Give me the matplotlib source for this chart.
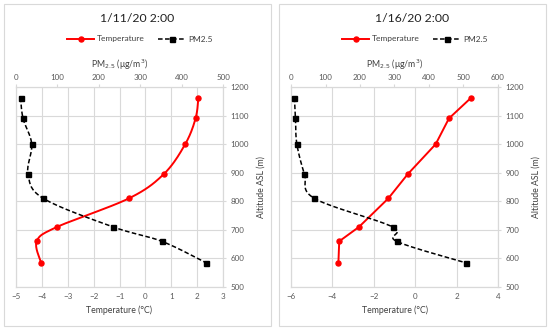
import matplotlib
matplotlib.use('Agg')
import matplotlib.pyplot as plt
from matplotlib.patches import Rectangle
from matplotlib.lines import Line2D
import numpy as np

plt.rcParams['font.family'] = ['Lato', 'DejaVu Sans']

# altitude (m ASL) of each sounding level
altitude = [1163, 1090, 1000, 895, 810, 710, 660, 585]

# 1/11/20 2:00
temp_a = [2.05, 1.94, 1.54, 0.71, -0.64, -3.42, -4.2, -4.03]
pm_a = [11, 17, 38, 29, 66, 235, 352, 459]

# 1/16/20 2:00
temp_b = [2.71, 1.63, 0.99, -0.36, -1.3, -2.72, -3.67, -3.71]
pm_b = [10, 13, 17, 39, 68, 295, 306, 506]

titles = ['1/11/20 2:00', '1/16/20 2:00']
temp_lims = [(-5, 3), (-6, 4)]
temp_steps = [1, 2]
pm_lims = [(0, 500), (0, 600)]
alt_lim = (500, 1200)
smooth_temp = [True, False]   # second chart has a straight-segment temperature line

grid_col = '#d9d9d9'
tick_col = '#595959'
text_col = '#404040'


def smooth(x, y, xlim, ylim, n=20):
    # Excel-style smoothed line (Catmull-Rom / Bezier) in normalised space
    xs = (np.asarray(x, float) - xlim[0]) / (xlim[1] - xlim[0])
    ys = (np.asarray(y, float) - ylim[0]) / (ylim[1] - ylim[0])
    p = np.column_stack([xs, ys])
    out = [p[0]]
    for i in range(len(p) - 1):
        p0 = p[i - 1] if i > 0 else p[i]
        p1 = p[i]
        p2 = p[i + 1]
        p3 = p[i + 2] if i + 2 < len(p) else p[i + 1]
        c1 = p1 + (p2 - p0) / 6
        c2 = p2 - (p3 - p1) / 6
        t = np.linspace(0, 1, n)[1:, None]
        seg = ((1 - t) ** 3) * p1 + 3 * ((1 - t) ** 2) * t * c1 + 3 * (1 - t) * t ** 2 * c2 + t ** 3 * p2
        out.extend(seg)
    out = np.array(out)
    return (out[:, 0] * (xlim[1] - xlim[0]) + xlim[0],
            out[:, 1] * (ylim[1] - ylim[0]) + ylim[0])


fig = plt.figure(figsize=(5.5, 3.3), dpi=100)
W, H = 550.0, 330.0

panels = [(temp_a, pm_a), (temp_b, pm_b)]
for k, (temp, pm) in enumerate(panels):
    off = 275 * k
    # panel border
    fig.patches.append(Rectangle(((4 + off) / W, 4 / H), 267 / W, 322 / H,
                                 transform=fig.transFigure, fill=False,
                                 edgecolor=grid_col, lw=0.8))
    fig.text((137 + off) / W, 1 - 18 / H, titles[k], ha='center', va='center',
             fontsize=8.8, color='#222222')

    ax = fig.add_axes([(16 + off) / W, 1 - 287 / H, 207 / W, 200 / H])
    ax2 = ax.twiny()

    tl = temp_lims[k]
    pl = pm_lims[k]
    if smooth_temp[k]:
        tx, ty = smooth(temp, altitude, tl, alt_lim)
    else:
        tx, ty = temp, altitude
    ax.plot(tx, ty, color='#ff0000', lw=1.4, zorder=3)
    ax.plot(temp, altitude, 'o', color='#ff0000', ms=3.6, zorder=4)
    px, py = smooth(pm, altitude, pl, alt_lim)
    ax2.plot(px, py, '--', color='black', lw=1.1, dashes=(3, 1.6), zorder=3)
    ax2.plot(pm, altitude, 's', color='black', ms=3.6, zorder=4)

    ax.set_xlim(tl)
    ax.set_ylim(alt_lim)
    ax2.set_xlim(pl)
    ax.set_xticks(np.arange(tl[0], tl[1] + 0.1, temp_steps[k]))
    ax.set_yticks(np.arange(500, 1201, 100))
    ax2.set_xticks(np.arange(pl[0], pl[1] + 1, 100))

    ax.yaxis.tick_right()
    ax.yaxis.set_label_position('right')
    ax.grid(True, color=grid_col, lw=0.8)
    ax.set_axisbelow(True)
    for a in (ax, ax2):
        for s in a.spines.values():
            s.set_color(grid_col)
            s.set_linewidth(0.8)
        a.tick_params(labelsize=5.8, colors=tick_col, length=0, pad=4)
    ax.tick_params(axis='y', length=2.5, color=grid_col, pad=3)
    ax2.tick_params(axis='x', length=2.5, color=grid_col, pad=2)

    ax.set_xlabel('Temperature (°C)', fontsize=6.3, color=text_col, labelpad=4)
    ax.set_ylabel('Altitude ASL (m)', fontsize=6.3, color=text_col, labelpad=5)
    ax2.set_xlabel('PM$_{2.5}$ (μg/m$^3$)', fontsize=6.3, color=text_col, labelpad=4)

    handles = [Line2D([], [], color='#ff0000', lw=1.4, marker='o', ms=3.6),
               Line2D([], [], color='black', lw=1.1, ls='--', dashes=(3, 1.6),
                      marker='s', ms=3.6)]
    fig.legend(handles, ['Temperature', 'PM2.5'], loc='center',
               bbox_to_anchor=((140 + off) / W, 1 - 39 / H), ncol=2,
               frameon=False, fontsize=6, handlelength=3.2, columnspacing=1.6,
               handletextpad=0.4, labelcolor=text_col)

fig.savefig('out.png', dpi=100)
